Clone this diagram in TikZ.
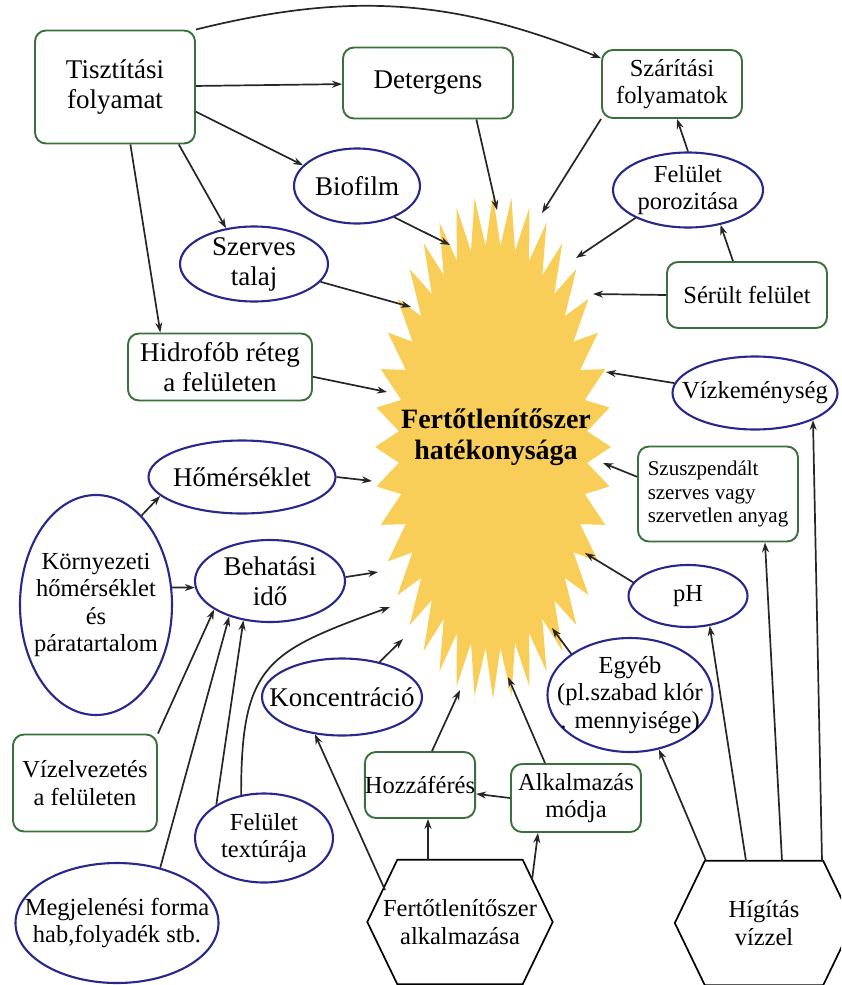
\documentclass[tikz,border=0pt]{standalone}
\usepackage{fontspec}
\IfFontExistsTF{LiberationSerif-Regular.ttf}{%
  \setmainfont{LiberationSerif}[Extension=.ttf, UprightFont=*-Regular, BoldFont=*-Bold,
    ItalicFont=*-Italic, BoldItalicFont=*-BoldItalic]}{%
  \setmainfont{DejaVu Serif}}
\usetikzlibrary{shapes.geometric}
\usetikzlibrary{arrows.meta}
\definecolor{boxgreen}{RGB}{58,112,58}
\definecolor{ovalblue}{RGB}{40,40,140}
\definecolor{sunyellow}{RGB}{249,206,88}
\tikzset{
    box/.style={ % Green rounded boxes
        draw=boxgreen,
        line width=1.9pt,
        rounded corners=11pt,
        fill=white,
        inner sep=0pt,
        align=center
    },
    oval/.style={ % Blue ellipses, text may run over the border
        ellipse,
        draw=ovalblue,
        line width=2.1pt,
        fill=white,
        inner xsep=-26pt, inner ysep=-5pt,
        align=center
    },
    hexa/.style={inner sep=0pt, align=center}, % frame is drawn by hand
    bigtxt/.style={font=\fontsize{27}{30}\selectfont},
    midtxt/.style={font=\fontsize{24.5}{27.5}\selectfont},
    smalltxt/.style={font=\fontsize{21}{23.5}\selectfont},
    every edge/.style={ % Sets the properties for each connector
        draw,
        ->,>={Stealth[length=10pt,width=7pt]},
        line width=1.7pt,
        black!85
    }
}

\begin{document}
\begin{tikzpicture}[x=1pt,y=-1pt]
    \useasboundingbox (0,0) rectangle (841,985);
    \clip (0,0) rectangle (841,985);

    % the yellow burst behind the main text
    \fill[sunyellow] (611,447) \foreach \t in {0,9,...,351} {
        -- ({493+0.8*118*cos(\t+4.5)},{447+0.8*252*sin(\t+4.5)})
        -- ({493+118*cos(\t+9)},{447+252*sin(\t+9)}) } -- cycle;
    \node[font=\fontsize{28}{31}\selectfont\bfseries, align=center] (hat) at (496,437) {Fertőtlenítőszer\\hatékonysága};

    \node[box, bigtxt, minimum width=160pt, minimum height=113pt] (tiszt) at (115,87) {Tisztítási\\folyamat};
    \node[box, bigtxt, minimum width=170pt, minimum height=71pt] (det) at (428,83) {Detergens};
    \node[box, midtxt, minimum width=140pt, minimum height=68pt] (szar) at (672,84) {Szárítási\\folyamatok};
    \node[box, bigtxt, minimum width=184pt, minimum height=67pt] (hidr) at (220,367) {Hidrofób réteg\\a felületen};
    \node[box, midtxt, minimum width=160pt, minimum height=66pt] (serult) at (747,295) {Sérült felület};
    \node[box, smalltxt, align=left, minimum width=160pt, minimum height=95pt] (szusz) at (718,494) {Szuszpendált\\szerves vagy\\szervetlen anyag};
    \node[box, midtxt, minimum width=144pt, minimum height=97pt] (vizelv) at (85,783) {Vízelvezetés\\a felületen};
    \node[box, midtxt, minimum width=110pt, minimum height=66pt] (hozz) at (420,785) {Hozzáférés};
    \node[box, midtxt, minimum width=130pt, minimum height=68pt] (alk) at (576,798) {Alkalmazás\\módja};

    \node[oval, bigtxt, minimum width=126pt, minimum height=75pt] (bio) at (357,186) {Biofilm};
    \node[oval, bigtxt, minimum width=148pt, minimum height=75pt] (szerv) at (254,264) {Szerves\\talaj};
    \node[oval, midtxt, minimum width=150pt, minimum height=75pt] (poroz) at (688,190) {Felület\\porozitása};
    \node[oval, midtxt, minimum width=165pt, minimum height=73pt] (vizk) at (755,393) {Vízkeménység};
    \node[oval, midtxt, minimum width=119pt, minimum height=62pt] (ph) at (688,596) {pH};
    \node[oval, midtxt, minimum width=165pt, minimum height=114pt] (egyeb) at (630,695) {Egyéb\\(pl.szabad klór\\. mennyisége)};
    \node[oval, bigtxt, minimum width=187pt, minimum height=73pt] (homer) at (242,477) {Hőmérséklet};
    \node[oval, bigtxt, minimum width=150pt, minimum height=82pt] (behat) at (270,581) {Behatási\\idő};
    \node[oval, midtxt, minimum width=152pt, minimum height=220pt] (korny) at (96,605) {Környezeti\\hőmérséklet\\és\\páratartalom};
    \node[oval, midtxt, minimum width=138pt, minimum height=89pt] (textura) at (264,838) {Felület\\textúrája};
    \node[oval, midtxt, minimum width=203pt, minimum height=120pt] (megj) at (117,923) {Megjelenési forma\\hab,folyadék stb.};
    \node[oval, bigtxt, minimum width=160pt, minimum height=77pt] (konc) at (342,697) {Koncentráció};

    \node[hexa, midtxt, minimum width=185pt, minimum height=124pt] (fert) at (460,922) {Fertőtlenítőszer\\alkalmazása};
    \node[hexa, midtxt, minimum width=178pt, minimum height=124pt] (hig) at (764,923) {Hígítás\\vízzel};
    \draw[line width=1.7pt] ([xshift=30pt]fert.north west) -- ([xshift=-30pt]fert.north east) -- (fert.east)
        -- ([xshift=-30pt]fert.south east) -- ([xshift=30pt]fert.south west) -- (fert.west) -- cycle;
    \draw[line width=1.7pt] ([xshift=30pt]hig.north west) -- ([xshift=-30pt]hig.north east) -- (hig.east)
        -- ([xshift=-30pt]hig.south east) -- ([xshift=30pt]hig.south west) -- (hig.west) -- cycle;

    \draw (tiszt.north east) edge[bend left=18] (szar.160);
    \draw (tiszt) edge (det);
    \draw (tiszt.343) edge (bio.159);
    \draw (tiszt.318) edge (szerv.128);
    \draw (tiszt.285) edge (hidr.150);
    \draw (det.323) edge ([shift={(1,-227)}]hat.center);
    \draw (szar.south west) edge ([shift={(46,-224)}]hat.center);
    \draw (bio.320) edge ([shift={(-46,-192)}]hat.center);
    \draw (szerv.345) edge ([shift={(-85,-130)}]hat.center);
    \draw (hidr.354) edge ([shift={(-109,-45)}]hat.center);
    \draw (poroz.north) edge ([xshift=5pt]szar.south);
    \draw (poroz.208) edge ([shift={(80,-179)}]hat.center);
    \draw ([xshift=-14pt]serult.north) edge (poroz.313);
    \draw (serult.west) edge ([shift={(97,-143)}]hat.center);
    \draw (vizk.173) edge ([shift={(110,-65)}]hat.center);
    \draw (szusz.168) edge ([shift={(107,26)}]hat.center);
    \draw (ph.166) edge ([shift={(89,116)}]hat.center);
    \draw (egyeb.145) edge ([shift={(56,191)}]hat.center);
    \draw (homer.east) edge ([shift={(-124,44)}]hat.center);
    \draw (korny.63) edge (homer.193);
    \draw (korny.13) edge (behat.185);
    \draw (behat.3) edge ([shift={(-118,135)}]hat.center);
    \draw (vizelv.north east) edge (behat.207);
    \draw (megj.52) edge (behat.221);
    \draw (textura.145) edge (behat.236);
    \draw (textura.118) edge[out=90, in=200, looseness=1.4] ([shift={(-106,170)}]hat.center);
    \draw (konc.43) edge ([shift={(-93,202)}]hat.center);
    \draw ([shift={(-75,-32)}]fert.center) edge (konc.234);
    \draw ([xshift=-32pt]fert.north) edge ([xshift=8pt]hozz.south);
    \draw ([shift={(72,-42)}]fert.center) edge ([xshift=-38pt]alk.south);
    \draw ([xshift=12pt]hozz.north) edge ([shift={(-36,253)}]hat.center);
    \draw (alk.west) edge (hozz.351);
    \draw ([xshift=-31pt]alk.north) edge ([shift={(12,240)}]hat.center);
    \draw ([xshift=-58pt]hig.north) edge (egyeb.298);
    \draw ([xshift=-18pt]hig.north) edge (ph.306);
    \draw ([xshift=18pt]hig.north) edge ([xshift=47pt]szusz.south);
    \draw ([xshift=58pt]hig.north) edge (vizk.335);
\end{tikzpicture}
\end{document}
